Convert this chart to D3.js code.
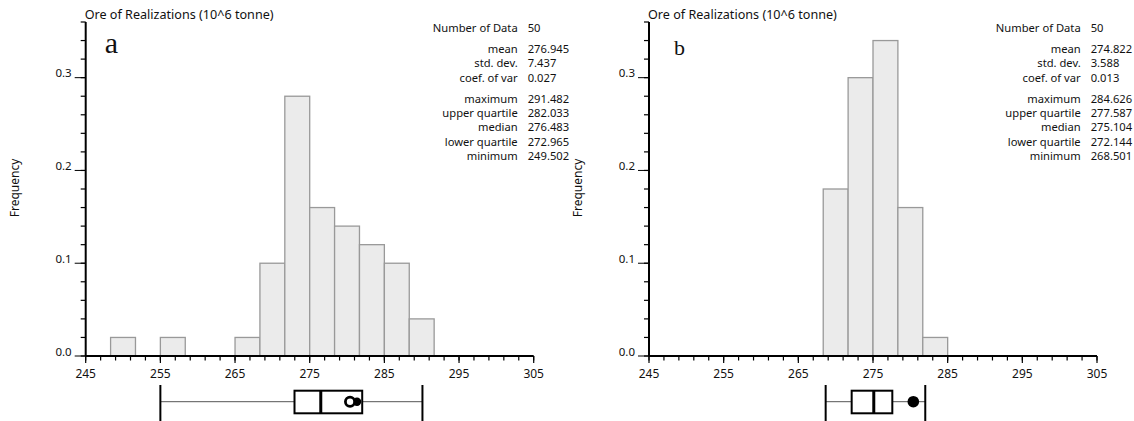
<!DOCTYPE html>
<html>
<head>
<meta charset="utf-8">
<script src="https://cdn.jsdelivr.net/npm/d3@7"></script>
<style>
  body { margin: 0; background: #fff; }
  svg text { font-family: "Noto Sans", "Open Sans", sans-serif; fill: #111; }
</style>
</head>
<body>
<div id="chart"></div>
<script>
// histogram bins: 18 classes of width 10/3 starting at 245
const binStart = 245;
const binWidth = 10 / 3;
const freqA = [0, 0.02, 0, 0.02, 0, 0, 0.02, 0.10, 0.28, 0.16, 0.14, 0.12, 0.10, 0.04, 0, 0, 0, 0];
const freqB = [0, 0, 0, 0, 0, 0, 0, 0.18, 0.30, 0.34, 0.16, 0.02, 0, 0, 0, 0, 0, 0];

const xTicks = [245, 255, 265, 275, 285, 295, 305];
const yTicks = [0.0, 0.1, 0.2, 0.3];

const statLabels = ["Number of Data", "mean", "std. dev.", "coef. of var", "maximum",
  "upper quartile", "median", "lower quartile", "minimum"];
const statGroups = [0, 1, 1, 1, 2, 2, 2, 2, 2];
const statsA = ["50", "276.945", "7.437", "0.027", "291.482", "282.033", "276.483", "272.965", "249.502"];
const statsB = ["50", "274.822", "3.588", "0.013", "284.626", "277.587", "275.104", "272.144", "268.501"];

// box plot: [low whisker, lower quartile, median, upper quartile, high whisker, marker]
const boxA = [255.0, 272.965, 276.483, 282.033, 290.1, 280.4];
const boxB = [268.66, 272.144, 275.104, 277.587, 282.0, 280.4];

const W = 1134, H = 421;
const svg = d3.select("#chart").append("svg").attr("width", W).attr("height", H);

function panel(opts) {
  const g = svg.append("g");
  const x = d3.scaleLinear().domain([245, 305]).range([opts.left, opts.left + 448]);
  const y = d3.scaleLinear().domain([0, 0.36]).range([356, 22]);

  // bars
  const bins = opts.freq.map((f, i) => ({ x0: binStart + i * binWidth, x1: binStart + (i + 1) * binWidth, f }))
    .filter(d => d.f > 0);
  g.append("g").selectAll("rect").data(bins).join("rect")
    .attr("x", d => x(d.x0))
    .attr("y", d => y(d.f))
    .attr("width", d => x(d.x1) - x(d.x0))
    .attr("height", d => y(0) - y(d.f))
    .attr("fill", "#ebebeb")
    .attr("stroke", "#999")
    .attr("stroke-width", 1.3);

  // y axis
  const ya = g.append("g");
  ya.append("line").attr("x1", opts.left).attr("x2", opts.left)
    .attr("y1", y(0.36)).attr("y2", y(0)).attr("stroke", "#000").attr("stroke-width", 2);
  ya.selectAll("line.minor").data(d3.range(0, 19).map(i => i * 0.02)).join("line")
    .attr("class", "minor")
    .attr("x1", opts.left - 5).attr("x2", opts.left)
    .attr("y1", d => y(d)).attr("y2", d => y(d))
    .attr("stroke", "#000").attr("stroke-width", 1.2);
  ya.selectAll("line.major").data(yTicks).join("line")
    .attr("class", "major")
    .attr("x1", opts.left - 11).attr("x2", opts.left)
    .attr("y1", d => y(d)).attr("y2", d => y(d))
    .attr("stroke", "#000").attr("stroke-width", 1);
  ya.selectAll("text").data(yTicks).join("text")
    .attr("x", opts.left - 14).attr("y", d => y(d) - 0.5)
    .attr("text-anchor", "end").attr("font-size", 11.5)
    .text(d => d.toFixed(1));

  // x axis
  const xa = g.append("g");
  xa.append("line").attr("x1", x(245)).attr("x2", x(305))
    .attr("y1", 356).attr("y2", 356).attr("stroke", "#000").attr("stroke-width", 2);
  xa.selectAll("line.minor").data(d3.range(245, 306, 2)).join("line")
    .attr("class", "minor")
    .attr("x1", d => x(d)).attr("x2", d => x(d))
    .attr("y1", 356).attr("y2", 360.5).attr("stroke", "#000").attr("stroke-width", 1.2);
  xa.selectAll("line.major").data(xTicks).join("line")
    .attr("class", "major")
    .attr("x1", d => x(d)).attr("x2", d => x(d))
    .attr("y1", 356).attr("y2", 363).attr("stroke", "#000").attr("stroke-width", 1.2);
  xa.selectAll("text").data(xTicks).join("text")
    .attr("x", d => x(d)).attr("y", 378)
    .attr("text-anchor", "middle").attr("font-size", 12)
    .text(d => d);

  // titles
  g.append("text").attr("x", opts.left - 1).attr("y", 18.5)
    .attr("font-size", 12.6).text("Ore of Realizations (10^6 tonne)");
  g.append("text")
    .attr("transform", `translate(${opts.left - 67},188) rotate(-90)`)
    .attr("text-anchor", "middle").attr("font-size", 12)
    .text("Frequency");
  g.append("text").attr("x", opts.left + opts.letterDx).attr("y", opts.letterY)
    .style("font-family", "'Liberation Serif', 'DejaVu Serif', serif")
    .attr("font-size", opts.letterSize).text(opts.letter);

  // statistics
  const st = g.append("g").attr("font-size", 11.2);
  const rowY = (i) => 32 + i * 14.3 + statGroups[i] * 6.8;
  st.selectAll("text.lab").data(statLabels).join("text")
    .attr("class", "lab")
    .attr("x", opts.statX).attr("y", (d, i) => rowY(i))
    .attr("text-anchor", "end").text(d => d);
  st.selectAll("text.val").data(opts.stats).join("text")
    .attr("class", "val")
    .attr("x", opts.statX + 10).attr("y", (d, i) => rowY(i))
    .text(d => d);

  // box plot
  const b = opts.box;
  const bp = g.append("g");
  const cy = 401.7;
  bp.append("line").attr("x1", x(b[0])).attr("x2", x(b[1])).attr("y1", cy).attr("y2", cy)
    .attr("stroke", "#555").attr("stroke-width", 1);
  bp.append("line").attr("x1", x(b[3])).attr("x2", x(b[4])).attr("y1", cy).attr("y2", cy)
    .attr("stroke", "#555").attr("stroke-width", 1);
  bp.selectAll("line.cap").data([b[0], b[4]]).join("line")
    .attr("class", "cap")
    .attr("x1", d => x(d)).attr("x2", d => x(d))
    .attr("y1", 385).attr("y2", 422).attr("stroke", "#000").attr("stroke-width", 2);
  bp.append("rect").attr("x", x(b[1])).attr("y", 390.7)
    .attr("width", x(b[3]) - x(b[1])).attr("height", 22.6)
    .attr("fill", "#fff").attr("stroke", "#000").attr("stroke-width", 2);
  bp.append("line").attr("x1", x(b[2])).attr("x2", x(b[2]))
    .attr("y1", 390.7).attr("y2", 413.3).attr("stroke", "#000").attr("stroke-width", 3);
  if (opts.openMarker) {
    bp.append("circle").attr("cx", x(b[5]) + 7).attr("cy", cy).attr("r", 4.2).attr("fill", "#000");
    bp.append("circle").attr("cx", x(b[5])).attr("cy", cy).attr("r", 4.6)
      .attr("fill", "#fff").attr("stroke", "#000").attr("stroke-width", 2.8);
  } else {
    bp.append("circle").attr("cx", x(b[5])).attr("cy", cy).attr("r", 5.8).attr("fill", "#000");
  }
}

panel({ left: 85.7, freq: freqA, stats: statsA, statX: 517.7, box: boxA,
  letter: "a", letterDx: 19, letterY: 53, letterSize: 30, openMarker: true });
panel({ left: 649, freq: freqB, stats: statsB, statX: 1080.7, box: boxB,
  letter: "b", letterDx: 25, letterY: 55, letterSize: 22, openMarker: false });
</script>
</body>
</html>
